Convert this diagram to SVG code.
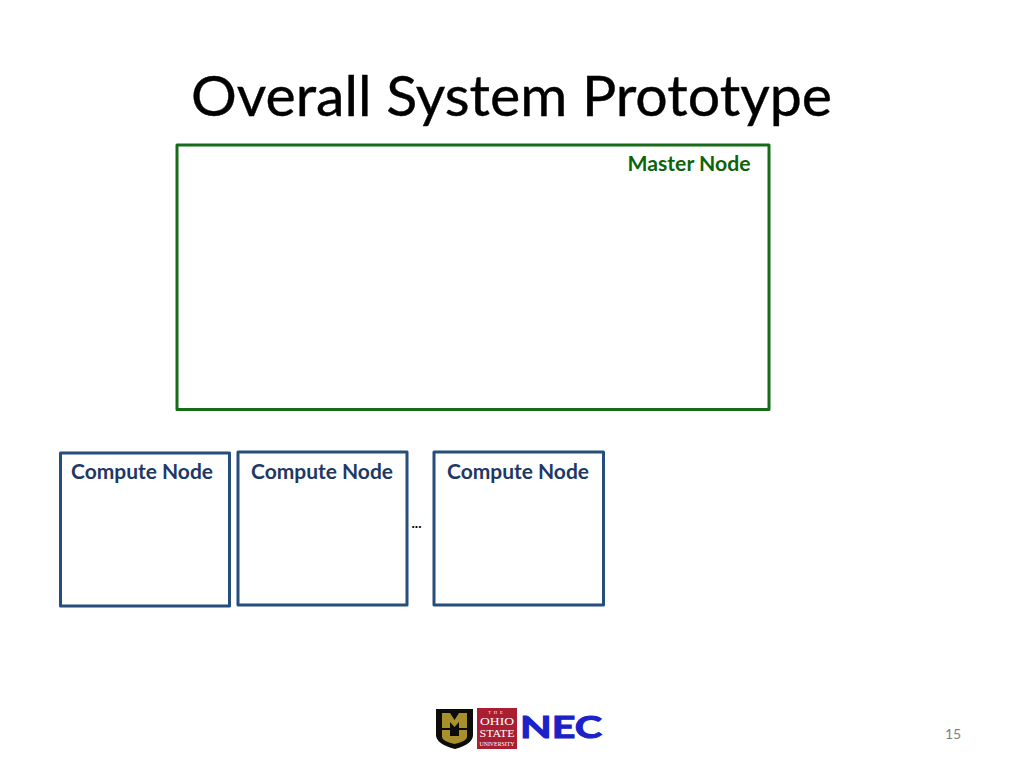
<svg xmlns="http://www.w3.org/2000/svg" width="1024" height="768" viewBox="0 0 1024 768">
<style>
text{font-family:Lato,"Open Sans",sans-serif}
.box{fill:#fff;stroke-width:3;stroke-linejoin:round}
.blue{stroke:#254e7d}
.lbl{font-size:20.500px;font-weight:700;fill:#1f3864;text-anchor:middle}
.serif{font-family:"Liberation Serif",serif;fill:#fff;text-anchor:middle}
</style>
<rect width="1024" height="768" fill="#fff"/>
<text id="title" x="511.500" y="116" font-size="56" text-anchor="middle" textLength="641" lengthAdjust="spacingAndGlyphs" fill="#000" stroke="#000" stroke-width="0.400">Overall System Prototype</text>
<g id="master-node">
<rect class="box" x="177" y="145" width="592" height="264.500" stroke="#176c17"/>
<text x="689" y="171" font-size="20.500" font-weight="700" fill="#0b640b" text-anchor="middle" textLength="123" lengthAdjust="spacingAndGlyphs">Master Node</text>
</g>
<g id="compute-node-1">
<rect class="box blue" x="60.500" y="453" width="169" height="153"/>
<text class="lbl" x="142" y="478.500" textLength="142" lengthAdjust="spacingAndGlyphs">Compute Node</text>
</g>
<g id="compute-node-2">
<rect class="box blue" x="238" y="452" width="169" height="153"/>
<text class="lbl" x="322" y="478.500" textLength="142" lengthAdjust="spacingAndGlyphs">Compute Node</text>
</g>
<g id="compute-node-3">
<rect class="box blue" x="434" y="452" width="169.500" height="153"/>
<text class="lbl" x="518" y="478.500" textLength="142" lengthAdjust="spacingAndGlyphs">Compute Node</text>
</g>
<text id="ellipsis" x="416.500" y="528" font-size="14" font-weight="700" text-anchor="middle" fill="#000">...</text>
<g id="logos">
<path d="M436 709H473V735Q473 744 455 749Q436 744 436 735Z" fill="#0c0c0a"/>
<path d="M442 713H450L454.500 720L459 713H467V728H459V722L454.500 727L450 722V728H442Z" fill="#a8902c"/>
<path d="M442 730H450V736H459V730H467V737Q467 741 454.500 744Q442 741 442 737Z" fill="#a8902c"/>
<rect x="477" y="708" width="40" height="41" fill="#a91e30"/>
<text class="serif" x="497" y="714" font-size="4.500" letter-spacing="3">THE</text>
<text class="serif" x="497" y="725" font-size="10.500" textLength="34" lengthAdjust="spacingAndGlyphs">OHIO</text>
<text class="serif" x="497" y="737" font-size="10.500" textLength="35" lengthAdjust="spacingAndGlyphs">STATE</text>
<text class="serif" x="497" y="746" font-size="6" textLength="35" lengthAdjust="spacingAndGlyphs">UNIVERSITY</text>
<text x="561" y="738" font-family="Liberation Sans" font-size="31" font-weight="700" fill="#1a22c8" text-anchor="middle" textLength="82" lengthAdjust="spacingAndGlyphs" stroke="#1a22c8" stroke-width="1">NEC</text>
</g>
<text id="page" x="953" y="738.500" font-size="14" fill="#7f7f7f" text-anchor="middle">15</text>
</svg>
